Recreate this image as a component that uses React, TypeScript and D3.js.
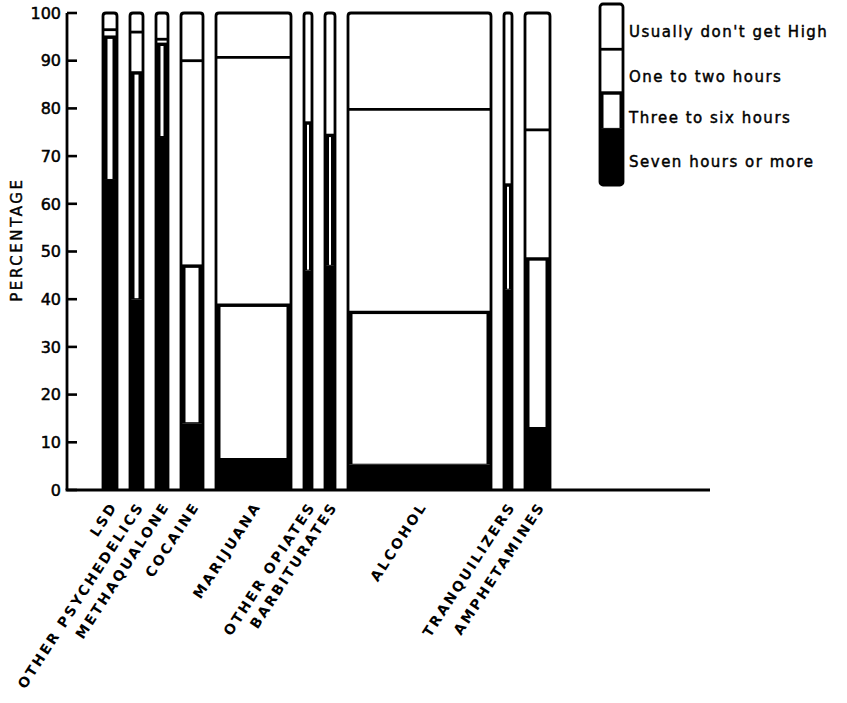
import React from "react";
import * as d3 from "d3";

const categories = [
  "LSD",
  "OTHER PSYCHEDELICS",
  "METHAQUALONE",
  "COCAINE",
  "MARIJUANA",
  "OTHER OPIATES",
  "BARBITURATES",
  "ALCOHOL",
  "TRANQUILIZERS",
  "AMPHETAMINES",
];
// relative number of users (bar widths)
const barWidths = [14, 13, 12, 22, 75, 8, 10, 143, 8, 25];
const sevenPlus = [65, 40, 74, 14, 6.5, 46, 47, 5.3, 42, 13];
const threeToSix = [30, 47.5, 19.5, 33, 32.3, 31, 27.4, 32, 22, 35.5];
const oneToTwo = [1.5, 8.5, 1, 43, 51.9, 0, 0, 42.5, 0, 27];
const usuallyNot = [3.5, 4, 5.5, 10, 9.3, 23, 25.6, 20.2, 36, 24.5];

const yTicks = [0, 10, 20, 30, 40, 50, 60, 70, 80, 90, 100];
const legendLabels = [
  "Usually don't get High",
  "One to two hours",
  "Three to six hours",
  "Seven hours or more",
];
const legendShares = [25, 24, 20, 31];

const W = 847;
const H = 703;
const axisX = 67;
const axisEndX = 710;
const firstBarX = 103;
const gapUnits = 13;
const FONT = "'DejaVu Sans', sans-serif";

export default function App() {
  const y = d3.scaleLinear().domain([0, 100]).range([490, 13]);
  const totalUnits = d3.sum(barWidths) + gapUnits * (barWidths.length - 1);
  const x = d3
    .scaleLinear()
    .domain([0, totalUnits])
    .range([firstBarX, firstBarX + totalUnits]);

  const starts: number[] = [];
  let acc = 0;
  barWidths.forEach((w) => {
    starts.push(acc);
    acc += w + gapUnits;
  });

  const sw = 2.8;

  const bars = categories.map((cat, i) => {
    const x0 = x(starts[i]);
    const x1 = x(starts[i] + barWidths[i]);
    const w = x1 - x0;
    const b7 = sevenPlus[i];
    const b3 = b7 + threeToSix[i];
    const b1 = b3 + oneToTwo[i];
    const yTop = y(100);
    const r = Math.min(3, w / 3);
    const outline = `M${x0},${y(0)} L${x0},${yTop + r} Q${x0},${yTop} ${x0 + r},${yTop} L${x1 - r},${yTop} Q${x1},${yTop} ${x1},${yTop + r} L${x1},${y(0)}`;
    const innerW = Math.max(2, w - 9);
    const innerX = x0 + (w - innerW) / 2;
    const elems: React.ReactNode[] = [];
    elems.push(
      <rect key="bg" x={x0} y={yTop} width={w} height={y(0) - yTop} fill="#fff" />
    );
    elems.push(
      <rect key="s7" x={x0} y={y(b7)} width={w} height={y(0) - y(b7)} fill="#000" />
    );
    if (threeToSix[i] > 0) {
      elems.push(
        <rect key="s3" x={x0} y={y(b3)} width={w} height={y(b7) - y(b3)} fill="#000" />
      );
      const ih = y(b7) - y(b3) - 3;
      if (ih > 0)
        elems.push(
          <rect key="s3i" x={innerX} y={y(b3) + 2} width={innerW} height={ih} fill="#fff" />
        );
    }
    if (oneToTwo[i] > 0) {
      elems.push(
        <line key="d1" x1={x0} x2={x1} y1={y(b1)} y2={y(b1)} stroke="#000" strokeWidth={sw} />
      );
    }
    elems.push(
      <line key="d3" x1={x0} x2={x1} y1={y(b3)} y2={y(b3)} stroke="#000" strokeWidth={sw} />
    );
    elems.push(
      <path key="ol" d={outline} fill="none" stroke="#000" strokeWidth={sw} strokeLinejoin="round" />
    );
    const cx = (x0 + x1) / 2;
    const lx = cx + 8;
    const lyy = 506;
    return (
      <g key={cat}>
        {elems}
        <text
          x={lx}
          y={lyy}
          transform={`rotate(-57, ${lx}, ${lyy})`}
          textAnchor="end"
          fontFamily={FONT}
          fontWeight="bold"
          fontSize={14}
          letterSpacing={2.4}
          fill="#000"
        >
          {cat}
        </text>
      </g>
    );
  });

  const lgX = 600;
  const lgW = 23;
  const ly = d3.scaleLinear().domain([0, 100]).range([4, 185]);
  const lgBounds: number[] = [];
  let la = 0;
  legendShares.forEach((s) => {
    lgBounds.push(la);
    la += s;
  });
  const lgTextY = [37, 82, 123, 167];

  return (
    <svg width={W} height={H} style={{ display: "block", position: "absolute", left: 0, top: 0, background: "#fff" }}>
      <rect x={0} y={0} width={W} height={H} fill="#fff" />
      <line x1={axisX} x2={axisX} y1={y(100)} y2={y(0)} stroke="#000" strokeWidth={2.8} />
      {yTicks.map((t) => (
        <g key={t}>
          <line x1={axisX} x2={axisX + 10} y1={y(t)} y2={y(t)} stroke="#000" strokeWidth={2.6} />
          <text
            x={axisX - 6}
            y={y(t)}
            dy="0.36em"
            textAnchor="end"
            fontFamily={FONT}
            fontSize={16}
            stroke="#000"
            strokeWidth={0.5}
            fill="#000"
          >
            {t}
          </text>
        </g>
      ))}
      <text
        x={22}
        y={y(52.5)}
        transform={`rotate(-90, 22, ${y(52.5)})`}
        textAnchor="middle"
        fontFamily={FONT}
        fontSize={15}
        letterSpacing={2.6}
        stroke="#000"
        strokeWidth={0.4}
        fill="#000"
      >
        PERCENTAGE
      </text>
      {bars}
      <line x1={axisX - 1.4} x2={axisEndX} y1={y(0)} y2={y(0)} stroke="#000" strokeWidth={2.8} />
      <g>
        <rect x={lgX} y={ly(0)} width={lgW} height={ly(100) - ly(0)} fill="#fff" />
        <rect x={lgX} y={ly(lgBounds[3])} width={lgW} height={ly(100) - ly(lgBounds[3])} fill="#000" />
        <rect x={lgX} y={ly(lgBounds[2])} width={lgW} height={ly(lgBounds[3]) - ly(lgBounds[2])} fill="#000" />
        <rect
          x={lgX + 3.5}
          y={ly(lgBounds[2]) + 2}
          width={lgW - 7}
          height={ly(lgBounds[3]) - ly(lgBounds[2]) - 3}
          fill="#fff"
        />
        <line x1={lgX} x2={lgX + lgW} y1={ly(lgBounds[1])} y2={ly(lgBounds[1])} stroke="#000" strokeWidth={sw} />
        <line x1={lgX} x2={lgX + lgW} y1={ly(lgBounds[2])} y2={ly(lgBounds[2])} stroke="#000" strokeWidth={sw} />
        <rect x={lgX} y={ly(0)} width={lgW} height={ly(100) - ly(0)} rx={3} fill="none" stroke="#000" strokeWidth={sw} />
        {legendLabels.map((l, i) => (
          <text
            key={l}
            x={lgX + lgW + 6}
            y={lgTextY[i]}
            fontFamily={FONT}
            fontSize={15}
            letterSpacing={1.5}
            stroke="#000"
            strokeWidth={0.45}
            fill="#000"
          >
            {l}
          </text>
        ))}
      </g>
    </svg>
  );
}
